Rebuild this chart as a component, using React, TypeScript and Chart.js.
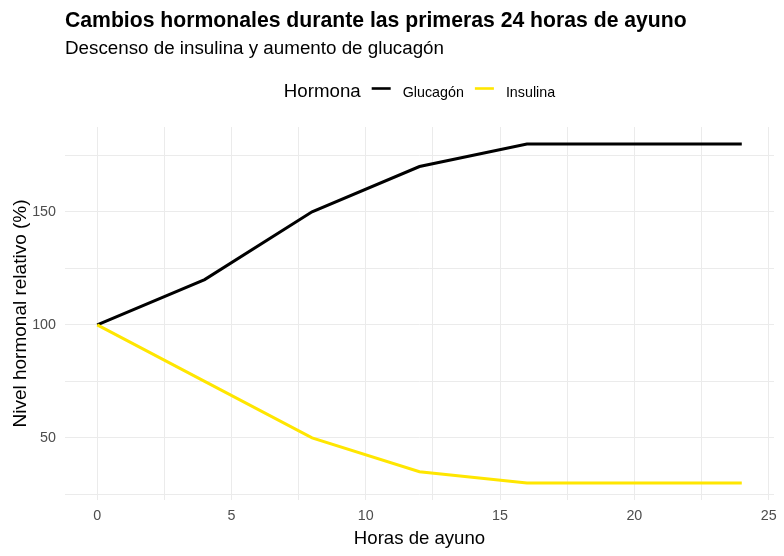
import React, { useEffect, useRef } from 'react';
import { Chart, registerables } from 'chart.js';

Chart.register(...registerables);

// horas de ayuno y nivel relativo de cada hormona (%)
const HOURS = [0, 4, 8, 12, 16, 24];
const GLUCAGON = [100, 120, 150, 170, 180, 180];
const INSULINA = [100, 75, 50, 35, 30, 30];

const SERIES_NAMES = ['Glucagón', 'Insulina'];
const SERIES_COLORS = ['#000000', '#FFE600'];

const X_TICKS = [0, 2.5, 5, 7.5, 10, 12.5, 15, 17.5, 20, 22.5, 25];
const Y_TICKS = [25, 50, 75, 100, 125, 150, 175];

const TITLE = 'Cambios hormonales durante las primeras 24 horas de ayuno';
const SUBTITLE = 'Descenso de insulina y aumento de glucagón';
const LEGEND_TITLE = 'Hormona';

const FONT = 'Arial, "Liberation Sans", sans-serif';

// title, subtitle and the inline ggplot-style legend
const headerPlugin = {
  id: 'header',
  afterDraw(chart: any) {
    const { ctx, chartArea } = chart;
    ctx.save();
    ctx.fillStyle = '#000000';
    ctx.textAlign = 'left';
    ctx.textBaseline = 'alphabetic';
    ctx.font = `bold 21.2px ${FONT}`;
    ctx.fillText(TITLE, chartArea.left, 27);
    ctx.font = `18.8px ${FONT}`;
    ctx.fillText(SUBTITLE, chartArea.left, 54);

    // legend layout
    const keyW = 19;
    const items = chart.data.datasets.map((ds: any) => ds.label);
    ctx.font = `18.7px ${FONT}`;
    const titleW = ctx.measureText(LEGEND_TITLE).width;
    ctx.font = `14.3px ${FONT}`;
    const itemWs = items.map((t: string) => ctx.measureText(t).width);
    let total = titleW;
    itemWs.forEach((w: number) => { total += 11 + keyW + 12 + w; });
    let x = (chartArea.left + chartArea.right) / 2 - total / 2;
    const baseY = 96.5;
    ctx.font = `18.7px ${FONT}`;
    ctx.fillText(LEGEND_TITLE, x, baseY);
    x += titleW;
    chart.data.datasets.forEach((ds: any, i: number) => {
      x += 11;
      ctx.strokeStyle = ds.borderColor;
      ctx.lineWidth = 2.6;
      ctx.beginPath();
      ctx.moveTo(x, 88.5);
      ctx.lineTo(x + keyW, 88.5);
      ctx.stroke();
      x += keyW + 12;
      ctx.font = `14.3px ${FONT}`;
      ctx.fillStyle = '#000000';
      ctx.fillText(items[i], x, baseY);
      x += itemWs[i];
    });
    ctx.restore();
  },
};

const App = () => {
  const canvasRef = useRef<HTMLCanvasElement>(null);
  const chartRef = useRef<Chart | null>(null);

  useEffect(() => {
    document.body.style.margin = '0';
    if (!canvasRef.current) return;

    const seriesValues = [GLUCAGON, INSULINA];

    chartRef.current = new Chart(canvasRef.current, {
      type: 'line',
      data: {
        datasets: SERIES_NAMES.map((name, i) => ({
          label: name,
          data: HOURS.map((h, j) => ({ x: h, y: seriesValues[i][j] })),
          borderColor: SERIES_COLORS[i],
          backgroundColor: SERIES_COLORS[i],
          borderWidth: 3,
          pointRadius: 0,
          tension: 0,
          fill: false,
          order: i === 0 ? 1 : 0,
        })),
      },
      options: {
        responsive: false,
        animation: false,
        layout: { padding: { top: 127, right: 10, left: 0, bottom: 0 } },
        plugins: {
          legend: { display: false },
          title: { display: false },
          tooltip: { enabled: false },
        },
        scales: {
          x: {
            type: 'linear',
            min: -1.2,
            max: 25.2,
            border: { display: false },
            grid: { color: '#EBEBEB', lineWidth: 1, drawTicks: false },
            afterBuildTicks: (scale: any) => {
              scale.ticks = X_TICKS.map((v) => ({ value: v }));
            },
            afterFit: (scale: any) => {
              scale.height = 56;
            },
            ticks: {
              autoSkip: false,
              maxRotation: 0,
              padding: 7,
              color: '#4D4D4D',
              font: { family: FONT, size: 14.3 },
              callback: (v: any) => (Number(v) % 5 === 0 ? String(v) : ''),
            },
            title: {
              display: true,
              text: 'Horas de ayuno',
              color: '#000000',
              font: { family: FONT, size: 18.6 },
              padding: { top: 0, bottom: 6 },
            },
          },
          y: {
            type: 'linear',
            min: 22.5,
            max: 187.5,
            border: { display: false },
            grid: { color: '#EBEBEB', lineWidth: 1, drawTicks: false },
            afterBuildTicks: (scale: any) => {
              scale.ticks = Y_TICKS.map((v) => ({ value: v }));
            },
            afterFit: (scale: any) => {
              scale.width = 65;
            },
            ticks: {
              autoSkip: false,
              padding: 9,
              color: '#4D4D4D',
              font: { family: FONT, size: 14.3 },
              callback: (v: any) => (Number(v) % 50 === 0 ? String(v) : ''),
            },
            title: {
              display: true,
              text: 'Nivel hormonal relativo (%)',
              color: '#000000',
              font: { family: FONT, size: 19 },
              padding: { top: 9, bottom: 0 },
            },
          },
        },
      },
      plugins: [headerPlugin],
    });

    return () => {
      if (chartRef.current) {
        chartRef.current.destroy();
        chartRef.current = null;
      }
    };
  }, []);

  return (
    <div style={{ width: 784, height: 556, background: '#FFFFFF' }}>
      <canvas ref={canvasRef} width={784} height={556}></canvas>
    </div>
  );
};

export default App;
